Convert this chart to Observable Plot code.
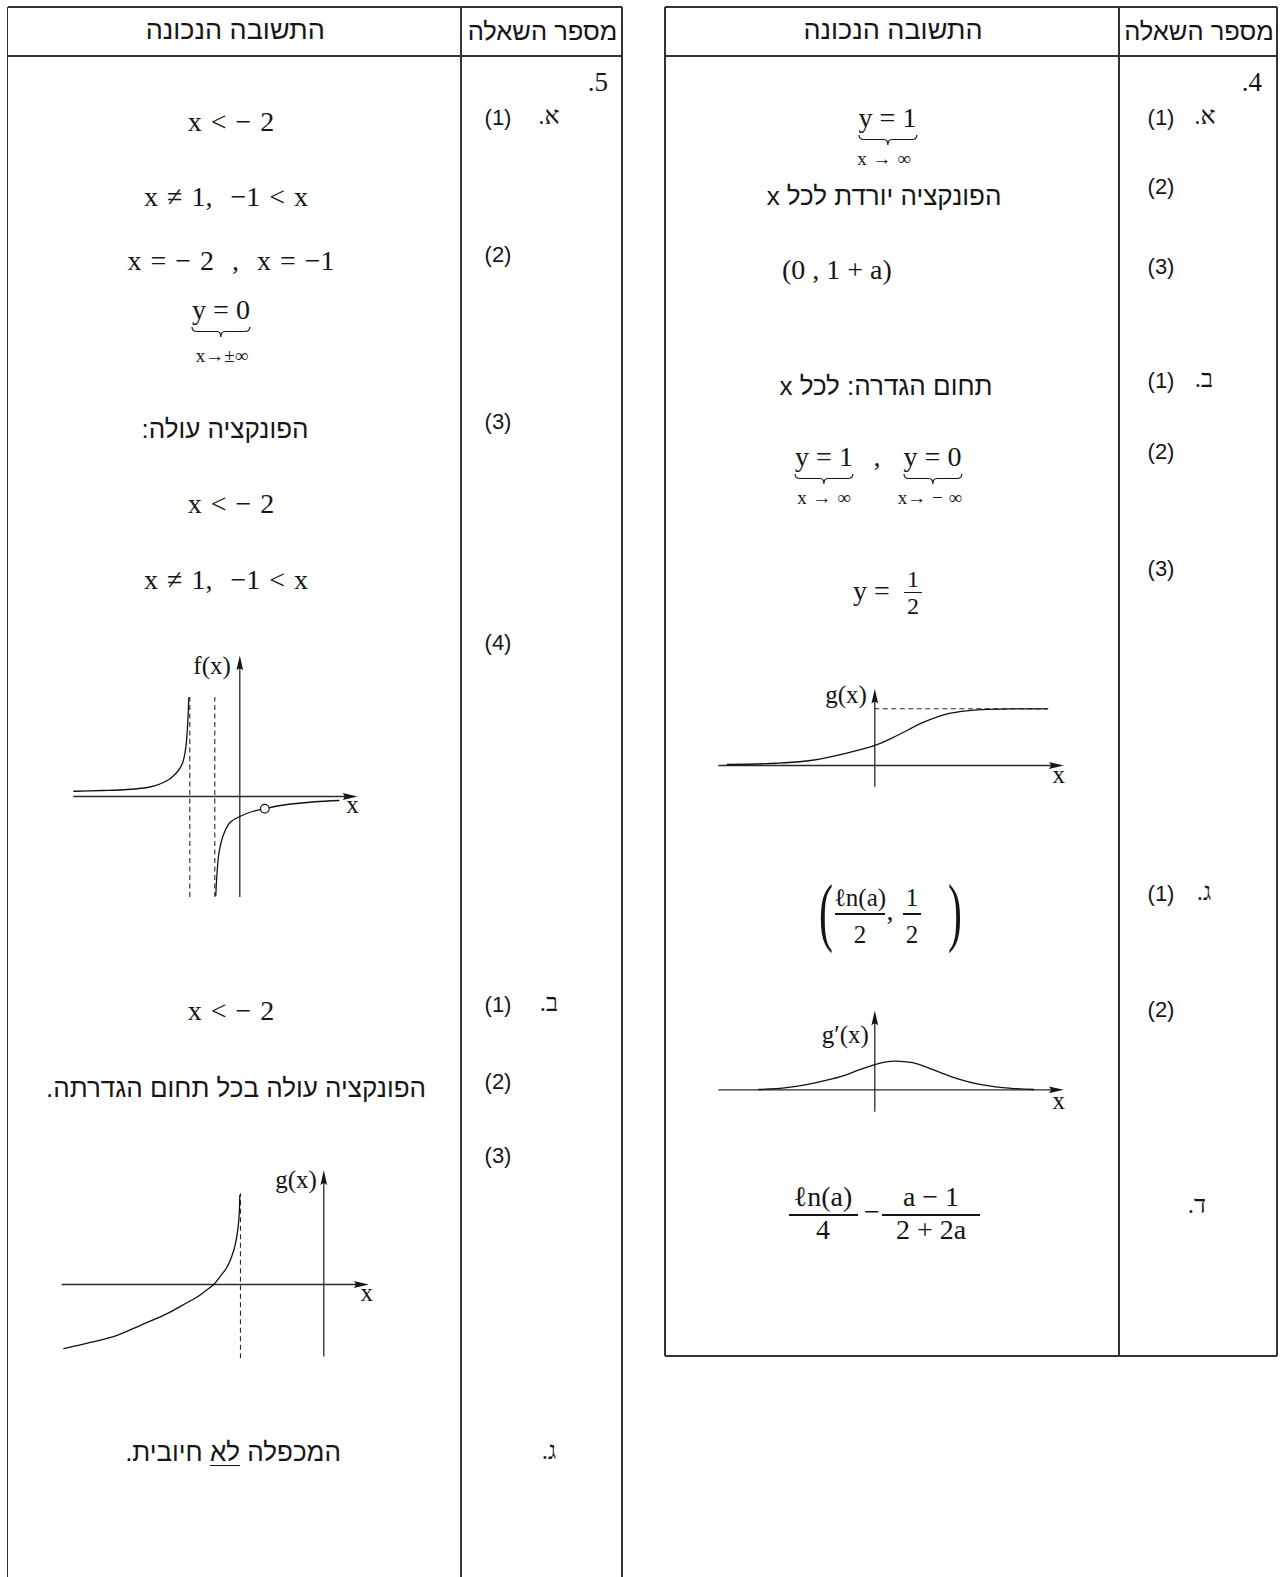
<!DOCTYPE html>
<html><head><meta charset="utf-8">
<script src="https://cdn.jsdelivr.net/npm/d3@7"></script>
<script src="https://cdn.jsdelivr.net/npm/@observablehq/plot@0.6"></script>
<style>
html,body{margin:0;padding:0;background:#fff}
#page{position:relative;width:1283px;height:1577px;overflow:hidden;background:#fff;color:#161616}
.t{position:absolute;white-space:pre;line-height:0.8}
.serif{font-family:"Liberation Serif","Times New Roman",serif}
.sans{font-family:"Liberation Sans","DejaVu Sans",sans-serif}
.ln{position:absolute;background:#333}
u{text-decoration-thickness:1.4px;text-underline-offset:4px}
</style></head><body><div id="page"></div>
<script>
// ---------------- DATA ----------------
const headers = ["התשובה הנכונה", "מספר השאלה"];

// Question 5 (left table)
const q5Number = "5.";
const q5Parts = ["(1)", "(2)", "(3)", "(4)", "(1)", "(2)", "(3)"];
const q5Letters = ["א.", "ב.", "ג."];
const q5Math = ["x < − 2", "x ≠ 1,  −1 < x", "x = − 2  ,  x = −1", "x < − 2", "x ≠ 1,  −1 < x", "x < − 2"];
const q5Hebrew = ["הפונקציה עולה:", "הפונקציה עולה בכל תחום הגדרתה."];
const q5Asymptote = ["y = 0", "x→±∞"];
const q5Product = ["המכפלה", "לא", "חיובית."];

// Question 4 (right table)
const q4Number = "4.";
const q4Parts = ["(1)", "(2)", "(3)", "(1)", "(2)", "(3)", "(1)", "(2)"];
const q4Letters = ["א.", "ב.", "ג.", "ד."];
const q4Asymptote = ["y = 1", "x → ∞"];
const q4Texts = ["הפונקציה יורדת לכל x", "(0 , 1 + a)", "תחום הגדרה: לכל x"];
const q4Asymptotes2 = [["y = 1", "x → ∞"], ["y = 0", "x→ − ∞"]];
const q4Half = ["y =", "1", "2"];
const q4Point = [["ℓn(a)", "2"], ["1", "2"]];
const q4Area = [["ℓn(a)", "4"], ["a − 1", "2 + 2a"]];

// Sketch labels
const sketchLabels = ["f(x)", "g(x)", "g(x)", "g′(x)"];

// Sketch curves (sketch units)
const fLeftBranch = [[-6.64,0.21],[-5.5,0.24],[-4.5,0.28],[-3.6,0.38],[-3.17,0.51],[-2.85,0.67],[-2.64,0.84],[-2.45,1.05],[-2.3,1.31],[-2.2,1.7],[-2.13,2.24],[-2.08,3.0],[-2.04,3.95]];
const fRightBranch = [[-0.96,-3.96],[-0.92,-3.2],[-0.84,-2.29],[-0.75,-1.85],[-0.64,-1.49],[-0.4,-1.05],[0,-0.8],[0.5,-0.6],[1,-0.49],[1.5,-0.38],[2.16,-0.29],[3,-0.21],[3.96,-0.16]];
const fHole = [[1, -0.49]];
const fAsymptotes = [-2, -1];

const gLeftCurve = [[-6.24,-1.54],[-5.6,-1.39],[-4.96,-1.22],[-4.4,-0.98],[-3.76,-0.7],[-3.4,-0.5],[-3.04,-0.3],[-2.85,-0.16],[-2.64,0],[-2.48,0.2],[-2.32,0.42],[-2.2,0.7],[-2.12,0.98],[-2.04,1.54],[-2.016,2.14]];
const gLeftAsymptote = [-2];

const gRightCurve = [[-3.69,0.018],[-2.44,0.04],[-1.61,0.088],[-0.78,0.206],[0,0.353],[0.56,0.529],[1.225,0.764],[1.89,0.922],[2.56,0.982],[3.4,0.997],[4.31,1.0]];
const gRightAsymptote = [1];

const gPrimeCurve = [[-2.9,0.005],[-2.2,0.04],[-1.61,0.106],[-1.2,0.17],[-0.775,0.252],[-0.4,0.35],[0,0.446],[0.25,0.488],[0.5,0.505],[0.8,0.492],[1.06,0.459],[1.4,0.37],[1.725,0.282],[2.1,0.19],[2.56,0.106],[3.2,0.04],[3.975,0.005]];

// ---------------- LAYOUT ----------------
const NS = "http://www.w3.org/2000/svg";
const page = document.getElementById("page");
const INK = "#161616";
const LH = 0.8;

function put(content, x, base, o = {}) {
  const size = o.size ?? 28, fam = o.fam ?? "serif", anchor = o.anchor ?? "middle";
  const d = document.createElement("div");
  d.className = "t " + fam;
  if (o.dir) d.dir = o.dir;
  d.style.fontSize = size + "px";
  const off = fam === "serif" ? (LH + 0.675) / 2 : (LH + 0.693) / 2;
  d.style.left = x + "px";
  d.style.top = (base - off * size) + "px";
  const tx = anchor === "middle" ? "-50%" : anchor === "end" ? "-100%" : "0";
  d.style.transform = `translateX(${tx})` + (o.sx ? ` scaleX(${o.sx})` : "");
  if (o.ws != null) d.style.wordSpacing = o.ws + "px";
  if (o.html) d.innerHTML = content; else d.textContent = content;
  page.appendChild(d);
  return d;
}
function hline(x1, x2, y, w = 1.4, c) {
  const d = document.createElement("div"); d.className = "ln";
  d.style.cssText += `left:${x1}px;top:${y - w/2}px;width:${x2 - x1}px;height:${w}px;` + (c ? `background:${c}` : "");
  page.appendChild(d);
}
function vline(x, y1, y2, w = 1.4) {
  const d = document.createElement("div"); d.className = "ln";
  d.style.cssText += `left:${x - w/2}px;top:${y1}px;width:${w}px;height:${y2 - y1}px;`;
  page.appendChild(d);
}
function brace(cx, top, w) {
  const h = 10, y = 4.5, x0 = 1, x1 = w + 1, mid = w / 2 + 1;
  const svg = document.createElementNS(NS, "svg");
  svg.setAttribute("width", w + 2); svg.setAttribute("height", h + 2);
  svg.style.cssText = `position:absolute;left:${cx - w/2 - 1}px;top:${top}px;overflow:visible`;
  const p = document.createElementNS(NS, "path");
  p.setAttribute("d", `M${x0},0 Q${x0},${y} ${x0+5},${y} L${mid-4},${y} Q${mid},${y} ${mid},${h} Q${mid},${y} ${mid+4},${y} L${x1-5},${y} Q${x1},${y} ${x1},0`);
  p.setAttribute("fill", "none"); p.setAttribute("stroke", INK); p.setAttribute("stroke-width", "1.2");
  svg.appendChild(p); page.appendChild(svg);
}
function underbraced(pair, cx, base, subCx, subBase) {
  const el = put(pair[0], cx, base);
  const w = el.getBoundingClientRect().width;
  brace(cx, base + 7, w);
  put(pair[1], subCx, subBase, {size: 19, ws: 1});
}
function frac(num, den, cx, numBase, barY, denBase, barW, size = 28) {
  put(num, cx, numBase, {size});
  put(den, cx, denBase, {size});
  hline(cx - barW/2, cx + barW/2, barY, 1.2, INK);
}

// Table frames
const L = {x0: 7.5, xs: 461, x1: 622, y0: 7, yh: 56, y1: 1590};
const R = {x0: 665, xs: 1119, x1: 1277, y0: 7, yh: 56, y1: 1356};
for (const T of [L, R]) {
  vline(T.x0, T.y0, T.y1); vline(T.xs, T.y0, T.y1); vline(T.x1, T.y0, T.y1);
  hline(T.x0, T.x1, T.y0); hline(T.x0, T.x1, T.yh);
  if (T === R) hline(T.x0, T.x1, T.y1);
  put(headers[0], (T.x0 + T.xs) / 2 + 1, 40, {fam: "sans", size: 27, dir: "rtl"});
  put(headers[1], (T.xs + T.x1) / 2 + 1, 40, {fam: "sans", size: 25.5, dir: "rtl"});
}

// Left table – question column
put(q5Number, 608, 92, {anchor: "end", dir: "rtl", size: 27});
const q5PartY = [125, 262, 429, 650, 1012, 1089, 1163];
q5Parts.forEach((p, i) => put(p, 498, q5PartY[i], {fam: "sans", size: 22}));
const q5LetterY = [124, 1011, 1459];
q5Letters.forEach((p, i) => put(p, 549, q5LetterY[i], {fam: "serif", size: 25, dir: "rtl"}));

// Left table – answers
const q5MathPos = [[231, 131.5], [226, 207], [231, 270.5], [231, 514], [226, 590], [231, 1021]];
q5Math.forEach((s, i) => put(s, q5MathPos[i][0], q5MathPos[i][1], {ws: 2}));
underbraced(q5Asymptote, 221, 320, 222, 362);
put(q5Hebrew[0], 225, 438, {fam: "sans", size: 26, dir: "rtl"});
put(q5Hebrew[1], 236, 1097, {fam: "sans", size: 26, dir: "rtl"});
put(`${q5Product[0]} <u>${q5Product[1]}</u> ${q5Product[2]}`, 233, 1461, {fam: "sans", size: 26, dir: "rtl", html: true});

// Right table – question column
put(q4Number, 1262, 92, {anchor: "end", dir: "rtl", size: 27});
const q4PartY = [125, 194.5, 274, 388.5, 459, 576.5, 901.5, 1017];
q4Parts.forEach((p, i) => put(p, 1161, q4PartY[i], {fam: "sans", size: 22}));
const q4LetterY = [124, 387.5, 900.5, 1213];
const q4LetterX = [1205, 1204, 1204, 1197];
q4Letters.forEach((p, i) => put(p, q4LetterX[i], q4LetterY[i], {fam: "serif", size: 25, dir: "rtl"}));

// Right table – answers
underbraced(q4Asymptote, 887.5, 128, 884, 165);
put(q4Texts[0], 884, 205, {fam: "sans", size: 26, dir: "rtl"});
put(q4Texts[1], 782, 280, {anchor: "start"});
put(q4Texts[2], 886, 395, {fam: "sans", size: 26, dir: "rtl"});
underbraced(q4Asymptotes2[0], 824, 467, 824, 504);
put(",", 877, 467);
underbraced(q4Asymptotes2[1], 932.5, 467, 930, 504);
put(q4Half[0], 853, 600.5, {anchor: "start"});
frac(q4Half[1], q4Half[2], 913, 587.5, 592.5, 614.5, 18, 24);
// point (ln(a)/2 , 1/2)
put("(", 826, 937, {size: 76, sx: 0.55});
frac(q4Point[0][0], q4Point[0][1], 860, 906, 914, 943, 50, 25);
put(",", 890, 921);
frac(q4Point[1][0], q4Point[1][1], 912, 906, 914, 943, 18, 25);
put(")", 955, 937, {size: 76, sx: 0.55});
// area
frac(q4Area[0][0], q4Area[0][1], 823, 1207, 1215, 1240, 69);
put("−", 872, 1222);
frac(q4Area[1][0], q4Area[1][1], 931, 1207, 1215, 1240, 98);

// ---------------- SKETCHES (Observable Plot) ----------------
const arrowHead = {draw(ctx) { ctx.moveTo(0, 0); ctx.lineTo(-15, -3.4); ctx.quadraticCurveTo(-11, 0, -15, 3.4); ctx.closePath(); }};
const AX = "#2a2a2a";
function sketch(box, axes, label, labelOff, xOff, marks) {
  const {left, top, width, height, ox, oy, ux, uy} = box;
  const xd = [(left - ox) / ux, (left + width - ox) / ux];
  const yd = [(oy - top - height) / uy, (oy - top) / uy];
  const [xa, xb, ya, yb] = axes;
  const svg = Plot.plot({
    width, height, margin: 0,
    x: {domain: xd, axis: null}, y: {domain: yd, axis: null},
    style: {background: "transparent", overflow: "visible", color: INK},
    marks: [
      Plot.ruleY([0], {x1: xa, x2: xb - 10 / ux, stroke: AX, strokeWidth: 1.3}),
      Plot.ruleX([0], {y1: ya, y2: yb - 10 / uy, stroke: AX, strokeWidth: 1.3}),
      ...marks,
      Plot.dot([[xb, 0]], {x: d => d[0], y: d => d[1], symbol: arrowHead, rotate: 0, fill: INK, stroke: null}),
      Plot.dot([[0, yb]], {x: d => d[0], y: d => d[1], symbol: arrowHead, rotate: -90, fill: INK, stroke: null}),
      Plot.text([label], {x: 0, y: yb, text: d => d, textAnchor: "end", lineAnchor: "bottom", dx: -labelOff[0], dy: labelOff[1], fontSize: 25, fontFamily: "Liberation Serif", fill: INK}),
      Plot.text(["x"], {x: xb, y: 0, text: d => d, textAnchor: "middle", lineAnchor: "bottom", dx: xOff[0], dy: xOff[1], fontSize: 25, fontFamily: "Liberation Serif", fill: INK})
    ]
  });
  svg.style.position = "absolute"; svg.style.left = left + "px"; svg.style.top = top + "px";
  page.appendChild(svg);
}
const curve = (data) => Plot.line(data, {x: d => d[0], y: d => d[1], curve: "catmull-rom", stroke: "#111", strokeWidth: 1.3});

// f(x) – question 5 a(4)
sketch({left: 60, top: 640, width: 320, height: 265, ox: 239.3, oy: 796, ux: 25, uy: 25},
  [-6.64, 4.71, -4.04, 5.64], sketchLabels[0], [9, 18], [-5, 16], [
    Plot.ruleX(fAsymptotes, {y1: -4.04, y2: 3.96, stroke: AX, strokeWidth: 1.1, strokeDasharray: "5,3.5"}),
    curve(fLeftBranch), curve(fRightBranch),
    Plot.dot(fHole, {x: d => d[0], y: d => d[1], r: 4.3, fill: "white", stroke: INK, strokeWidth: 1.2})
  ]);

// g(x) – question 5 b(3)
sketch({left: 50, top: 1160, width: 340, height: 210, ox: 323.3, oy: 1284, ux: 41.67, uy: 41.67},
  [-6.28, 1.08, -1.74, 2.74], sketchLabels[1], [7, 18], [-2, 16], [
    Plot.ruleX(gLeftAsymptote, {y1: -1.78, y2: 2.18, stroke: AX, strokeWidth: 1.1, strokeDasharray: "5,3.5"}),
    curve(gLeftCurve)
  ]);

// g(x) – question 4 b
sketch({left: 705, top: 675, width: 370, height: 120, ox: 874.3, oy: 765, ux: 40, uy: 56.7},
  [-3.9, 4.725, -0.383, 1.353], sketchLabels[2], [8, 14], [-5, 17], [
    Plot.ruleY(gRightAsymptote, {x1: 0, x2: 4.35, stroke: AX, strokeWidth: 1.1, strokeDasharray: "5,3.5"}),
    curve(gRightCurve)
  ]);

// g'(x) – question 4 c(2)
sketch({left: 705, top: 1000, width: 370, height: 120, ox: 874.3, oy: 1089.3, ux: 40, uy: 56.7},
  [-3.9, 4.725, -0.395, 1.4], sketchLabels[3], [6, 33], [-5, 19], [
    curve(gPrimeCurve)
  ]);
</script>
</body></html>
